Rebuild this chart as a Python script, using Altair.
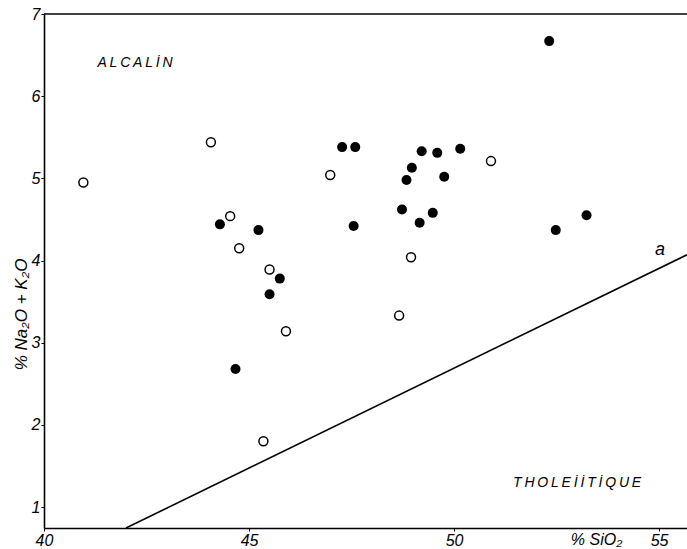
import altair as alt
import pandas as pd

# Open circles
open_x = [40.96, 44.07, 44.54, 44.76, 45.50, 45.90, 45.35, 46.98, 48.66, 48.95, 50.90]
open_y = [4.95, 5.44, 4.54, 4.15, 3.89, 3.14, 1.80, 5.04, 3.33, 4.04, 5.21]

# Filled circles
fill_x = [44.29, 45.23, 45.75, 45.50, 44.67, 47.27, 47.59, 47.55, 49.21, 49.59,
          50.15, 48.97, 48.84, 49.76, 48.73, 49.48, 49.16, 52.32, 53.23, 52.48]
fill_y = [4.44, 4.37, 3.78, 3.59, 2.68, 5.38, 5.38, 4.42, 5.33, 5.31,
          5.36, 5.13, 4.98, 5.02, 4.62, 4.58, 4.46, 6.67, 4.55, 4.37]

# Dividing line "a"
line_x = [42.0, 55.68]
line_y = [0.745, 4.07]

# Annotations
TS = "\u2009"
label_text = [TS.join("ALCALİN"), TS.join("THOLEİİTİQUE"), "a"]
label_x = [42.22, 53.0, 55.02]
label_y = [6.40, 1.29, 4.13]
label_size = [14, 14, 18]

X_DOM = [40, 55.68]
Y_DOM = [0.745, 7]
FONT = "Liberation Sans"

xs = alt.Scale(domain=X_DOM, nice=False, zero=False)
ys = alt.Scale(domain=Y_DOM, nice=False, zero=False)

xaxis = alt.Axis(values=[40, 45, 50, 55], grid=False, title="% SiO₂", format="d",
                 labelFlush=False, labelFontSize=16, labelFontStyle="italic",
                 labelFont=FONT, labelColor="black", tickColor="black",
                 domainColor="black", domainWidth=1.6, tickSize=3, labelPadding=1,
                 titleX=552, titleY=11, titleAlign="center", titleBaseline="middle",
                 titleFont=FONT, titleFontSize=16, titleFontStyle="italic",
                 titleFontWeight="normal", titleColor="black")
yaxis = alt.Axis(values=[1, 2, 3, 4, 5, 6, 7], grid=False, title="% Na₂O + K₂O",
                 format="d",
                 labelFontSize=16, labelFontStyle="italic", labelFont=FONT,
                 labelColor="black", tickColor="black", domainColor="black",
                 domainWidth=1.6, tickSize=3, labelPadding=1, labelFlush=False,
                 titleX=-23, titleY=300, titleAngle=270, titleAlign="center",
                 titleBaseline="middle", titleFont=FONT, titleFontSize=17,
                 titleFontStyle="italic", titleFontWeight="normal", titleColor="black")

df_open = pd.DataFrame({"x": open_x, "y": open_y})
df_fill = pd.DataFrame({"x": fill_x, "y": fill_y})
df_line = pd.DataFrame({"x": line_x, "y": line_y})
df_top = pd.DataFrame({"x": [X_DOM[0]], "x2": [X_DOM[1]], "y": [Y_DOM[1]]})
df_lab = pd.DataFrame({"t": label_text, "x": label_x, "y": label_y, "s": label_size})

line = alt.Chart(df_line).mark_line(color="black", strokeWidth=1.6, clip=True).encode(
    x=alt.X("x:Q", scale=xs, axis=xaxis),
    y=alt.Y("y:Q", scale=ys, axis=yaxis),
)
top = alt.Chart(df_top).mark_rule(color="black", strokeWidth=1.6).encode(
    x=alt.X("x:Q", scale=xs), x2="x2:Q", y=alt.Y("y:Q", scale=ys)
)
opens = alt.Chart(df_open).mark_point(shape="circle", filled=False, color="black",
                                       strokeWidth=1.5, size=80, opacity=1).encode(
    x=alt.X("x:Q", scale=xs), y=alt.Y("y:Q", scale=ys)
)
fills = alt.Chart(df_fill).mark_point(shape="circle", filled=True, color="black",
                                       size=100, opacity=1).encode(
    x=alt.X("x:Q", scale=xs), y=alt.Y("y:Q", scale=ys)
)
texts = alt.Chart(df_lab).mark_text(font=FONT, fontStyle="italic", color="black",
                                     align="center", baseline="middle").encode(
    x=alt.X("x:Q", scale=xs), y=alt.Y("y:Q", scale=ys), text="t:N",
    size=alt.Size("s:Q", scale=None, legend=None)
)

chart = alt.layer(line, top, opens, fills, texts).properties(
    width=643, height=514,
    autosize=alt.AutoSizeParams(type="none"),
    padding={"left": 44, "top": 14, "right": 0, "bottom": 21},
    background="white",
).configure_view(stroke=None)

chart.save("out.html", embed_options={"renderer": "svg", "actions": False})
